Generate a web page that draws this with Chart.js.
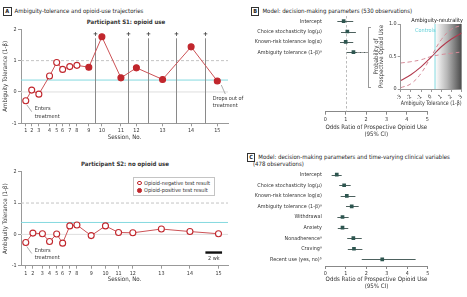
<!DOCTYPE html>
<html>
<head>
<meta charset="utf-8">
<script src="https://cdn.jsdelivr.net/npm/chart.js@4"></script>
<style>
  body { margin: 0; background: #fff; }
  #fig { position: relative; width: 467px; height: 297px; overflow: hidden;
         font-family: "Liberation Sans Narrow", "DejaVu Sans Condensed", sans-serif; color: #222; }
  canvas { position: absolute; }
  .txt { position: absolute; white-space: nowrap; font-size: 6px; line-height: 8px; }
  .box { display: inline-block; border: 0.8px solid #333; padding: 0 1.3px; margin-right: 3px;
         font-weight: bold; font-size: 5.6px; line-height: 7px; }
  .ptitle { position: absolute; font-size: 6px; font-weight: bold; transform: translateX(-50%); white-space: nowrap; color: #333; }
  .line { position: absolute; background: #9a9a9a; }
  .legend { position: absolute; border: 0.8px solid #c4c4c4; background: #fff; font-size: 5.5px; color: #333; }
  .legend div { position: absolute; white-space: nowrap; }
  .dot { width: 4.6px; height: 4.6px; border-radius: 50%; border: 1.1px solid #c1272d; box-sizing: border-box; }
</style>
</head>
<body>
<div id="fig">
  <div class="txt" style="left:3px;top:6.5px"><span class="box">A</span>Ambiguity-tolerance and opioid-use trajectories</div>
  <div class="txt" style="left:251px;top:6.5px"><span class="box">B</span>Model: decision-making parameters (530 observations)</div>
  <div class="txt" style="left:247px;top:153px"><span class="box">C</span>Model: decision-making parameters and time-varying clinical variables</div>
  <div class="txt" style="left:253px;top:160px">(478 observations)</div>

  <div class="ptitle" style="left:126px;top:17.5px">Participant S1: opioid use</div>
  <div class="ptitle" style="left:125px;top:160px">Participant S2: no opioid use</div>

  <canvas id="s1" width="260" height="145" style="left:0;top:0"></canvas>
  <canvas id="s2" width="260" height="152" style="left:0;top:145px"></canvas>
  <canvas id="forestB" width="227" height="145" style="left:240px;top:0"></canvas>
  <canvas id="inset" width="99" height="100" style="left:368px;top:10px"></canvas>
  <canvas id="forestC" width="227" height="152" style="left:240px;top:145px"></canvas>

  <!-- bracket linking the ambiguity row to the inset -->
  <div class="line" style="left:368px;top:26.5px;width:0.8px;height:61px"></div>
  <div class="line" style="left:368px;top:26.5px;width:3px;height:0.8px"></div>
  <div class="line" style="left:368px;top:87px;width:3px;height:0.8px"></div>
  <div style="position:absolute;left:357px;top:52.3px;width:11px;border-top:0.8px dashed #9a9a9a"></div>
  <div class="txt" style="left:403px;top:16px;width:60px;text-align:right;font-size:5.6px">Ambiguity-neutrality</div>

  <div class="legend" style="left:133px;top:176.5px;width:80px;height:17.5px">
    <div class="dot" style="left:3px;top:3.2px;background:#fff"></div>
    <div style="left:10px;top:2px">Opioid-negative test result</div>
    <div class="dot" style="left:3px;top:10.6px;background:#c1272d"></div>
    <div style="left:10px;top:9.4px">Opioid-positive test result</div>
  </div>
</div>

<script>
// ---- data ----
const sessionNumbers = [1, 2, 3, 4, 5, 6, 7, 8, 9, 10, 11, 12, 13, 14, 15];

// participant S1 (days since entering treatment)
const s1SessionDays = [0, 5, 11, 20, 26, 31, 37, 43, 53, 64, 80, 93, 115, 139, 161];
const s1Tolerance = [-0.28, 0.06, -0.07, 0.51, 0.94, 0.72, 0.81, 0.85, 0.79, 1.76, 0.45, 0.77, 0.40, 1.44, 0.35];
const s1OpioidPositive = [false, false, false, false, false, false, false, false, true, true, true, true, true, true, true];
const s1PositiveTestDays = [58, 86, 103, 126, 151];

// participant S2
const s2SessionDays = [0, 6, 14, 20, 26, 31, 37, 43, 55, 67, 78, 90, 114, 138, 162];
const s2Tolerance = [-0.26, 0.04, 0.02, -0.23, 0.01, -0.28, 0.27, 0.30, -0.04, 0.27, 0.06, 0.05, 0.17, 0.09, 0.02];
const s2OpioidPositive = sessionNumbers.map(() => false);

const controlsTolerance = 0.38;

// panel B
const forestBLabels = ['Intercept', 'Choice stochasticity log(μ)', 'Known-risk tolerance log(α)', 'Ambiguity tolerance (1-β)ᵃ'];
const forestBOdds = [0.90, 1.08, 1.00, 1.38];
const forestBLow = [0.59, 0.77, 0.72, 1.05];
const forestBHigh = [1.37, 1.50, 1.37, 2.06];

// inset of panel B
const insetTolerance = [-3, -2, -1, 0, 1, 2, 3];
const insetFit = [0.13, 0.22, 0.34, 0.49, 0.65, 0.77, 0.86];
const insetShallow = [0.40, 0.42, 0.45, 0.50, 0.53, 0.55, 0.57];
const insetSteep = [0.02, 0.08, 0.24, 0.50, 0.76, 0.92, 0.98];

// panel C
const forestCLabels = ['Intercept', 'Choice stochasticity log(μ)', 'Known-risk tolerance log(α)', 'Ambiguity tolerance (1-β)ᵃ',
  'Withdrawal', 'Anxiety', 'Nonadherenceᵃ', 'Cravingᵃ', 'Recent use (yes, no)ᵇ'];
const forestCOdds = [0.56, 0.92, 1.05, 1.29, 0.84, 0.84, 1.37, 1.40, 2.78];
const forestCLow = [0.31, 0.68, 0.75, 1.01, 0.59, 0.61, 1.07, 1.10, 1.78];
const forestCHigh = [0.80, 1.24, 1.47, 1.63, 1.14, 1.12, 1.78, 1.81, 4.41];

// ---- styling ----
const FONT = "'Liberation Sans Narrow','DejaVu Sans Condensed',sans-serif";
const RED = '#c1272d';
const CYAN = '#84d9df';
const TEAL = '#2e5650';
Chart.defaults.font.family = FONT;
Chart.defaults.font.size = 5.4;
Chart.defaults.color = '#333';
Chart.defaults.animation = false;

const trajectoryRefs = {
  id: 'trajectoryRefs',
  beforeDatasetsDraw(chart, args, o) {
    const { ctx, chartArea: a, scales: { x, y } } = chart;
    const hline = (py) => { ctx.beginPath(); ctx.moveTo(a.left, py); ctx.lineTo(a.right, py); ctx.stroke(); };
    ctx.save();
    ctx.lineWidth = 1;
    ctx.strokeStyle = '#dedede';
    hline(y.getPixelForValue(0));
    ctx.setLineDash([3, 2]);
    ctx.strokeStyle = '#c4c4c4';
    hline(y.getPixelForValue(1));
    ctx.setLineDash([]);
    ctx.strokeStyle = CYAN;
    hline(y.getPixelForValue(controlsTolerance));
    ctx.strokeStyle = '#8a8a8a';
    ctx.fillStyle = '#333';
    ctx.font = `bold 6.5px ${FONT}`;
    ctx.textAlign = 'center';
    ctx.textBaseline = 'middle';
    (o.testDays || []).forEach(d => {
      const px = Math.round(x.getPixelForValue(d)) + 0.5;
      ctx.beginPath(); ctx.moveTo(px, a.top + 9); ctx.lineTo(px, a.bottom); ctx.stroke();
      ctx.fillText('+', px, a.top + 5);
    });
    ctx.restore();
  },
  afterDatasetsDraw(chart, args, o) {
    const { ctx, scales: { x, y } } = chart;
    const pts = chart.getDatasetMeta(0).data;
    ctx.save();
    ctx.strokeStyle = '#999';
    ctx.lineWidth = 0.8;
    ctx.fillStyle = '#333';
    ctx.font = `5.5px ${FONT}`;
    ctx.textBaseline = 'middle';
    const p0 = pts[0];
    ctx.beginPath(); ctx.moveTo(p0.x + 1, p0.y + 4); ctx.lineTo(p0.x + 6, p0.y + 11); ctx.stroke();
    ctx.fillText('Enters', p0.x + 9, p0.y + 8);
    ctx.fillText('treatment', p0.x + 9, p0.y + 15.5);
    if (o.dropOut) {
      const p = pts[pts.length - 1];
      ctx.beginPath(); ctx.moveTo(p.x + 4, p.y + 4); ctx.lineTo(p.x + 8, p.y + 13); ctx.stroke();
      ctx.fillText('Drops out of', p.x - 4.5, p.y + 18);
      ctx.fillText('treatment', p.x - 4.5, p.y + 25);
    }
    if (o.scaleBar) {
      const x0 = x.getPixelForValue(o.scaleBar[0]), x1 = x.getPixelForValue(o.scaleBar[1]);
      const py = y.getPixelForValue(-0.58);
      ctx.fillStyle = '#111';
      ctx.fillRect(x0, py - 1.2, x1 - x0, 2.4);
      ctx.textAlign = 'center';
      ctx.fillStyle = '#333';
      ctx.fillText('2 wk', (x0 + x1) / 2, py + 6.5);
    }
    ctx.restore();
  }
};

function trajectoryChart(id, days, tol, positive, layout, refs) {
  return new Chart(document.getElementById(id), {
    type: 'line',
    data: {
      datasets: [{
        data: days.map((d, i) => ({ x: d, y: tol[i] })),
        borderColor: '#cc5256',
        borderWidth: 1,
        pointRadius: 3,
        pointBorderWidth: 1.1,
        pointBorderColor: RED,
        pointBackgroundColor: positive.map(p => p ? RED : '#fff'),
        tension: 0
      }]
    },
    options: {
      responsive: false,
      layout: { padding: { top: layout.top, right: layout.right, left: 0, bottom: 0 } },
      plugins: { legend: { display: false }, tooltip: { enabled: false }, trajectoryRefs: refs },
      scales: {
        x: {
          type: 'linear', min: -4, max: 170,
          afterBuildTicks: s => { s.ticks = days.map(v => ({ value: v })); },
          afterFit: s => { s.height = layout.xAxisH; },
          ticks: { autoSkip: false, maxRotation: 0, padding: 1.5, callback: (v, i) => sessionNumbers[i] },
          grid: { drawOnChartArea: false, tickLength: 3, color: '#999' },
          border: { color: '#999' },
          title: { display: true, text: 'Session, No.', font: { size: 6.1 }, padding: { top: 0, bottom: layout.xTitlePad } }
        },
        y: {
          min: -1, max: 2,
          ticks: { stepSize: 1, padding: 1.5 },
          afterFit: s => { s.width = 21; },
          grid: { drawOnChartArea: false, tickLength: 3, color: '#999' },
          border: { color: '#999' },
          title: { display: true, text: 'Ambiguity Tolerance (1-β)', font: { size: 6.1 }, padding: { top: 2, bottom: 0 } }
        }
      }
    },
    plugins: [trajectoryRefs]
  });
}

trajectoryChart('s1', s1SessionDays, s1Tolerance, s1OpioidPositive,
  { top: 29.3, right: 32, xAxisH: 21.7, xTitlePad: 4 },
  { testDays: s1PositiveTestDays, dropOut: true });
trajectoryChart('s2', s2SessionDays, s2Tolerance, s2OpioidPositive,
  { top: 26.7, right: 32, xAxisH: 31.3, xTitlePad: 14 },
  { scaleBar: [151, 165] });

// ---- forest plots ----
const forestRefs = {
  id: 'forestRefs',
  beforeDatasetsDraw(chart, args, o) {
    const { ctx, chartArea: a, scales: { x, y } } = chart;
    ctx.save();
    if (o.nullLine) {
      const px = Math.round(x.getPixelForValue(1)) + 0.5;
      ctx.strokeStyle = '#aaa';
      ctx.lineWidth = 0.8;
      ctx.setLineDash([2.5, 2]);
      ctx.beginPath(); ctx.moveTo(px, a.top); ctx.lineTo(px, a.bottom); ctx.stroke();
      ctx.setLineDash([]);
    }
    ctx.strokeStyle = '#4d615e';
    ctx.lineWidth = 1;
    o.low.forEach((lo, i) => {
      const py = Math.round(y.getPixelForValue(i)) + 0.5;
      ctx.beginPath(); ctx.moveTo(x.getPixelForValue(lo), py); ctx.lineTo(x.getPixelForValue(o.high[i]), py); ctx.stroke();
    });
    ctx.restore();
  }
};

function forestChart(id, labels, odds, low, high, layout, nullLine) {
  return new Chart(document.getElementById(id), {
    type: 'scatter',
    data: {
      datasets: [{
        data: odds.map((v, i) => ({ x: v, y: i })),
        pointStyle: 'rect',
        pointRadius: 2.6,
        backgroundColor: TEAL,
        borderColor: TEAL,
        borderWidth: 0
      }]
    },
    options: {
      responsive: false,
      layout: { padding: { top: layout.top, right: layout.right, left: 0, bottom: 0 } },
      plugins: { legend: { display: false }, tooltip: { enabled: false },
                 forestRefs: { low, high, nullLine } },
      scales: {
        x: {
          type: 'linear', min: 0, max: 5,
          ticks: { stepSize: 1, padding: 1.5 },
          afterFit: s => { s.height = layout.xAxisH; },
          grid: { drawOnChartArea: false, tickLength: 3, color: '#888' },
          border: { color: '#888' },
          title: { display: true, text: ['Odds Ratio of Prospective Opioid Use', '(95% CI)'],
                   font: { size: 6.1, lineHeight: 1.15 }, padding: { top: 0, bottom: layout.xTitlePad } }
        },
        y: {
          type: 'linear', reverse: true, min: -0.5, max: layout.yMax,
          afterBuildTicks: s => { s.ticks = labels.map((l, i) => ({ value: i })); },
          afterFit: s => { s.width = 85.3; },
          ticks: { autoSkip: false, padding: 3.5, callback: (v, i) => labels[i] },
          grid: { display: false, drawTicks: false },
          border: { display: false }
        }
      }
    },
    plugins: [forestRefs]
  });
}

forestChart('forestB', forestBLabels, forestBOdds, forestBLow, forestBHigh,
  { top: 16, right: 39.7, xAxisH: 33.3, xTitlePad: 7.5, yMax: 8.75 }, true);
forestChart('forestC', forestCLabels, forestCOdds, forestCLow, forestCHigh,
  { top: 24.4, right: 39.3, xAxisH: 31, xTitlePad: 7, yMax: 8.63 }, false);

// ---- inset: probability vs ambiguity tolerance ----
const insetShade = {
  id: 'insetShade',
  beforeDatasetsDraw(chart) {
    const { ctx, chartArea: a, scales: { x } } = chart;
    const x0 = x.getPixelForValue(controlsTolerance);
    ctx.save();
    const g = ctx.createLinearGradient(x0, 0, a.right, 0);
    g.addColorStop(0, '#ffffff');
    g.addColorStop(0.45, '#b8b8b8');
    g.addColorStop(1, '#4a4a4a');
    ctx.fillStyle = g;
    ctx.fillRect(x0, a.top, a.right - x0, a.bottom - a.top);
    ctx.strokeStyle = CYAN;
    ctx.lineWidth = 1;
    ctx.beginPath(); ctx.moveTo(x0, a.top); ctx.lineTo(x0, a.bottom); ctx.stroke();
    ctx.fillStyle = '#5fd0d8';
    ctx.font = `5.5px ${FONT}`;
    ctx.textAlign = 'right';
    ctx.textBaseline = 'middle';
    ctx.fillText('Controls', x0 + 0.5, a.top + 6.5);
    ctx.restore();
  }
};

new Chart(document.getElementById('inset'), {
  type: 'line',
  data: {
    datasets: [
      { data: insetFit, borderColor: '#b23a4e', borderWidth: 1.1, pointRadius: 0, tension: 0.4 },
      { data: insetShallow, borderColor: '#d58a97', borderWidth: 1, borderDash: [4, 3], pointRadius: 0, tension: 0.4 },
      { data: insetSteep, borderColor: '#d58a97', borderWidth: 1, borderDash: [4, 3], pointRadius: 0, tension: 0.4 }
    ].map(d => ({ ...d, data: d.data.map((v, i) => ({ x: insetTolerance[i], y: v })) }))
  },
  options: {
    responsive: false,
    layout: { padding: { top: 14, right: 4.7, left: 0, bottom: 0 } },
    plugins: { legend: { display: false }, tooltip: { enabled: false } },
    scales: {
      x: {
        type: 'linear', min: -3, max: 3,
        ticks: { stepSize: 1, padding: 1.5 },
        afterFit: s => { s.height = 21; },
        grid: { drawOnChartArea: false, tickLength: 3, color: '#999' },
        border: { color: '#999' },
        title: { display: true, text: 'Ambiguity Tolerance (1-β)', font: { size: 6.1 }, padding: { top: 0, bottom: 2.5 } }
      },
      y: {
        min: 0, max: 1,
        afterBuildTicks: s => { s.ticks = [0, 0.5, 1].map(v => ({ value: v })); },
        afterFit: s => { s.width = 32.7; },
        ticks: { padding: 1, callback: v => v === 0 ? '0' : v.toFixed(1) },
        grid: { drawOnChartArea: false, tickLength: 3, color: '#999' },
        border: { color: '#999' },
        title: { display: true, text: ['Probability of', 'Prospective Opioid Use'],
                 font: { size: 6.1, lineHeight: 0.85 }, padding: { top: 5.5, bottom: 0 } }
      }
    }
  },
  plugins: [insetShade]
});
</script>
</body>
</html>
